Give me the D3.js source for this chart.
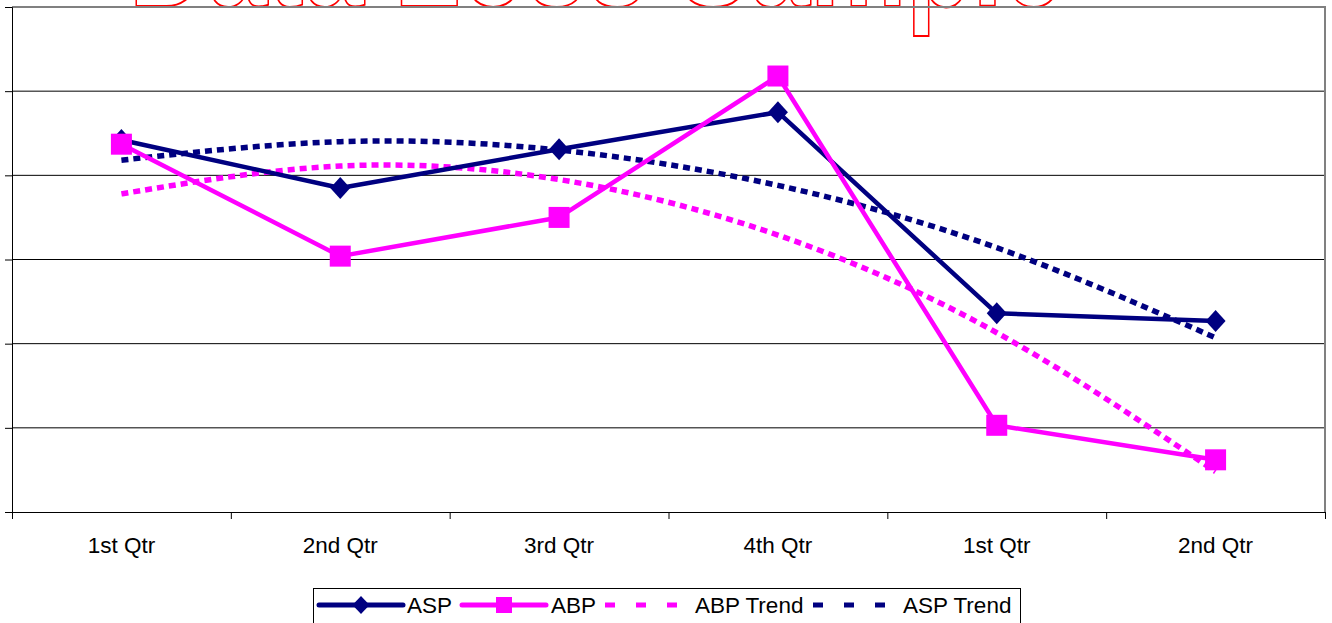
<html>
  <head>
    <title>Data Loss Sample</title>
    <meta charset="utf-8">
    <style>
      body { margin: 0; background: #fff; }
      svg { display: block; }
      text { font-family: "Liberation Sans", Arial, sans-serif; }
    </style>
    <script src="https://cdnjs.cloudflare.com/ajax/libs/d3/7.8.5/d3.min.js"></script>
  </head>
  <body>
  <svg></svg>
<script>
const categories = ['1st Qtr', '2nd Qtr', '3rd Qtr', '4th Qtr', '1st Qtr', '2nd Qtr'];
const asp = [44.2, 38.5, 43.1, 47.5, 23.6, 22.7];
const abp = [43.7, 30.4, 35.0, 51.8, 10.3, 6.2];
const abpTrend = [37.8, 41.1, 39.5, 32.9, 21.3, 4.8];
const aspTrend = [41.8, 44.0, 43.0, 38.8, 31.4, 20.7];
const yTicks = [0, 10, 20, 30, 40, 50, 60];

const width = 1332;
const height = 623;
const plot = { left: 12, right: 1325, top: 7, bottom: 512 };

const navy = '#000080';
const pink = '#ff00ff';

const svg = d3.select('svg')
  .attr('width', width)
  .attr('height', height);

const x = d3.scaleLinear().domain([0, categories.length]).range([plot.left, plot.right]);
const y = d3.scaleLinear().domain([0, 60]).range([plot.bottom, plot.top]);
const cx = i => x(i + 0.5);

// title (mostly cut off at the top, as in the original)
svg.append('text')
  .attr('x', 129)
  .attr('y', 6)
  .attr('font-size', 142)
  .attr('font-weight', 'bold')
  .attr('textLength', 934)
  .attr('lengthAdjust', 'spacingAndGlyphs')
  .attr('fill', '#fff')
  .attr('stroke', '#ff0000')
  .attr('stroke-width', 2)
  .text('Data Loss Sample');

// gridlines
svg.append('g')
  .selectAll('line')
  .data(yTicks.slice(1, -1))
  .enter()
  .append('line')
  .attr('x1', plot.left)
  .attr('x2', plot.right)
  .attr('y1', d => y(d))
  .attr('y2', d => y(d))
  .attr('stroke', '#000')
  .attr('stroke-width', 1);

// plot area border (top / right)
svg.append('path')
  .attr('d', `M${plot.left},${plot.top}H${plot.right}V${plot.bottom}`)
  .attr('fill', 'none')
  .attr('stroke', '#808080')
  .attr('stroke-width', 2);

// axes
svg.append('g')
  .attr('transform', `translate(${plot.left},0)`)
  .call(d3.axisLeft(y).tickValues(yTicks).tickSize(7).tickFormat(''))
  .call(g => g.selectAll('path,line').attr('stroke', '#000'));

svg.append('g')
  .attr('transform', `translate(0,${plot.bottom})`)
  .call(d3.axisBottom(x).tickValues(d3.range(categories.length + 1)).tickSize(7).tickSizeOuter(0).tickFormat(''))
  .call(g => g.selectAll('path,line').attr('stroke', '#000'));

svg.append('g')
  .selectAll('text')
  .data(categories)
  .enter()
  .append('text')
  .attr('x', (d, i) => cx(i))
  .attr('y', 553)
  .attr('text-anchor', 'middle')
  .attr('font-size', 22.5)
  .attr('fill', '#000')
  .text(d => d);

// trend lines
const trendLine = d3.line()
  .x((d, i) => cx(i))
  .y(d => y(d))
  .curve(d3.curveNatural);

svg.append('path')
  .attr('d', trendLine(abpTrend))
  .attr('fill', 'none')
  .attr('stroke', pink)
  .attr('stroke-width', 5.5)
  .attr('stroke-dasharray', '7,5');

svg.append('path')
  .attr('d', trendLine(aspTrend))
  .attr('fill', 'none')
  .attr('stroke', navy)
  .attr('stroke-width', 5.5)
  .attr('stroke-dasharray', '7,5');

// series
const line = d3.line()
  .x((d, i) => cx(i))
  .y(d => y(d));

svg.append('path')
  .attr('d', line(asp))
  .attr('fill', 'none')
  .attr('stroke', navy)
  .attr('stroke-width', 4.5)
  .attr('stroke-linejoin', 'round');

svg.append('g')
  .selectAll('path')
  .data(asp)
  .enter()
  .append('path')
  .attr('d', 'M0,-11L10,0L0,11L-10,0Z')
  .attr('transform', (d, i) => `translate(${cx(i)},${y(d)})`)
  .attr('fill', navy);

svg.append('path')
  .attr('d', line(abp))
  .attr('fill', 'none')
  .attr('stroke', pink)
  .attr('stroke-width', 4.5)
  .attr('stroke-linejoin', 'round');

svg.append('g')
  .selectAll('rect')
  .data(abp)
  .enter()
  .append('rect')
  .attr('x', (d, i) => cx(i) - 10.5)
  .attr('y', d => y(d) - 10.5)
  .attr('width', 21)
  .attr('height', 21)
  .attr('fill', pink);

// legend
const legend = svg.append('g');
legend.append('rect')
  .attr('x', 313.5)
  .attr('y', 588.5)
  .attr('width', 707)
  .attr('height', 50)
  .attr('fill', '#fff')
  .attr('stroke', '#000')
  .attr('stroke-width', 1);

const legendItems = [
  { name: 'ASP', color: navy, x: 319, text: 407, marker: 'diamond' },
  { name: 'ABP', color: pink, x: 462, text: 551, marker: 'square' },
  { name: 'ABP Trend', color: pink, x: 605, text: 695, dash: true },
  { name: 'ASP Trend', color: navy, x: 813, text: 903, dash: true }
];

legendItems.forEach(item => {
  const ly = 605;
  legend.append('line')
    .attr('x1', item.x)
    .attr('x2', item.x + 84)
    .attr('y1', ly)
    .attr('y2', ly)
    .attr('stroke', item.color)
    .attr('stroke-width', 5)
    .attr('stroke-linecap', item.dash ? 'butt' : 'round')
    .attr('stroke-dasharray', item.dash ? '10,21' : null);
  if (item.marker === 'diamond') {
    legend.append('path')
      .attr('d', 'M0,-9L8.5,0L0,9L-8.5,0Z')
      .attr('transform', `translate(${item.x + 42},${ly})`)
      .attr('fill', item.color);
  }
  if (item.marker === 'square') {
    legend.append('rect')
      .attr('x', item.x + 42 - 8)
      .attr('y', ly - 8)
      .attr('width', 16)
      .attr('height', 16)
      .attr('fill', item.color);
  }
  legend.append('text')
    .attr('x', item.text)
    .attr('y', 613)
    .attr('font-size', 22.5)
    .attr('fill', '#000')
    .text(item.name);
});
</script>
  </body>
</html>
